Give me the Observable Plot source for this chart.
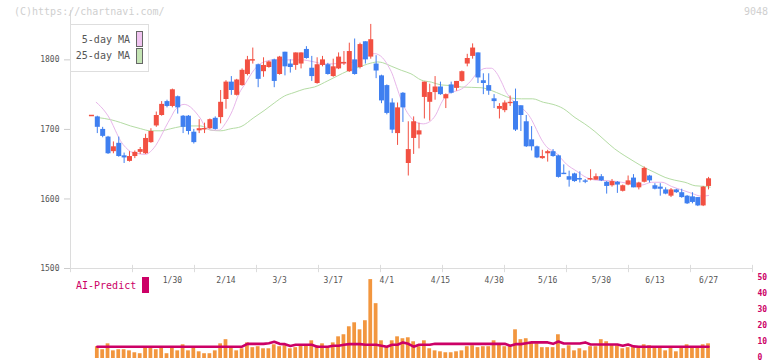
<!DOCTYPE html>
<html><head><meta charset="utf-8">
<script src="https://cdn.jsdelivr.net/npm/d3@7"></script>
<script src="https://cdn.jsdelivr.net/npm/@observablehq/plot@0.6"></script>
<style>
html,body{margin:0;padding:0;background:#fff;}
#wrap{position:relative;width:772px;height:361px;overflow:hidden;font-family:"DejaVu Sans Mono",monospace;}
#wrap svg{position:absolute;left:0;top:0;}
.t{position:absolute;white-space:pre;line-height:10px;font-size:10px;}
</style></head><body>
<div id="wrap"></div>
<script>
// ---- data ----
const openP = [
1719,1718,1700,1689,1668,1680,1662,1654,1661,1667,
1665,1681,1705,1720,1740,1733,1747,1719,1719,1696,
1698,1700,1701,1716,1717,1743,1768,1749,1763,1779,
1799,1793,1783,1789,1800,1779,1811,1794,1792,1794,
1815,1788,1766,1792,1793,1776,1787,1795,1783,1800,
1789,1826,1804,1794,1777,1763,1738,1694,1752,1651,
1687,1692,1746,1739,1753,1761,1744,1764,1759,1769,
1794,1805,1810,1770,1763,1744,1729,1727,1737,1740,
1734,1711,1685,1675,1658,1665,1668,1662,1637,1632,
1636,1630,1626,1628,1627,1632,1624,1619,1624,1611,
1620,1630,1616,1624,1633,1619,1617,1613,1604,1613,
1609,1604,1603,1602,1590,1618];
const highP = [
1720,1719,1703,1690,1682,1689,1666,1668,1669,1674,
1693,1701,1725,1740,1742,1758,1748,1720,1720,1700,
1714,1709,1715,1718,1756,1770,1776,1772,1787,1805,
1817,1794,1803,1798,1801,1805,1811,1800,1810,1810,
1819,1805,1803,1805,1795,1801,1810,1812,1824,1830,
1824,1826,1851,1806,1778,1764,1744,1738,1753,1711,
1718,1709,1768,1765,1776,1768,1751,1768,1769,1784,
1808,1823,1810,1780,1780,1750,1737,1741,1748,1758,
1734,1720,1704,1676,1670,1670,1671,1663,1649,1640,
1637,1639,1628,1642,1636,1635,1625,1628,1625,1620,
1633,1635,1624,1646,1634,1622,1622,1616,1615,1614,
1614,1605,1609,1602,1618,1631];
const lowP = [
1719,1694,1688,1664,1665,1660,1651,1653,1658,1664,
1664,1680,1703,1719,1731,1731,1722,1694,1692,1679,
1694,1694,1700,1699,1708,1729,1749,1748,1762,1777,
1794,1760,1775,1788,1760,1778,1777,1781,1785,1787,
1801,1769,1765,1790,1778,1775,1786,1792,1782,1778,
1787,1794,1801,1773,1737,1721,1694,1677,1710,1633,
1664,1672,1715,1712,1742,1749,1730,1751,1755,1768,
1790,1801,1766,1750,1749,1730,1715,1724,1733,1697,
1697,1674,1669,1658,1657,1653,1660,1630,1635,1617,
1624,1623,1622,1626,1627,1625,1607,1617,1608,1610,
1619,1616,1613,1623,1623,1613,1604,1606,1602,1608,
1601,1592,1593,1589,1589,1613];
const closeP = [
1720,1703,1690,1665,1675,1661,1659,1661,1667,1671,
1687,1697,1720,1736,1733,1757,1731,1703,1697,1681,
1701,1701,1714,1700,1739,1768,1756,1771,1785,1800,
1800,1772,1792,1797,1769,1804,1790,1789,1810,1810,
1802,1776,1793,1800,1779,1790,1804,1796,1812,1779,
1822,1800,1829,1784,1741,1723,1699,1731,1731,1671,
1711,1698,1768,1753,1761,1750,1750,1752,1769,1783,
1802,1817,1774,1766,1755,1740,1733,1738,1739,1699,
1720,1675,1675,1659,1661,1668,1661,1631,1635,1627,
1625,1629,1624,1629,1632,1626,1618,1625,1620,1619,
1626,1616,1623,1644,1626,1614,1614,1607,1613,1609,
1602,1593,1595,1590,1617,1629];

// 5-day and 25-day moving averages, read at positions along the trading-day index
const ma5X = [0.8,2.5,3.5,4.4,5.3,6.3,7.2,8.1,10,10.9,11.9,12.8,13.7,14.7,15.6,17.2,18.4,19.3,20.3,21.2,22.5,23.7,25,26.2,27.4,28.7,29.9,31.5,34,36.5,39,41.5,43.3,46.4,48.9,51.4,52.7,54.2,55.2,56,56.8,57.7,58.6,59.5,60.5,61.8,63.3,64.2,65.1,66.1,67,68.9,70.7,71.7,73.6,74.5,75.4,76.4,77.3,78.2,80.1,81,82,82.9,83.8,84.8,86.6,88.5,90.4,92.2,94.1,96.9,98.8,102.5,104.4,106.3,108.1,110,111.9,113.7,115];
const ma5Y = [1739,1725,1713,1698,1684,1674,1668,1666,1664,1668,1677,1689,1703,1717,1729,1736,1732,1725,1715,1703,1699,1699,1710,1727,1751,1767,1782,1795,1800,1800,1800,1797,1794,1795,1797,1806,1809,1803,1792,1780,1762,1742,1727,1717,1710,1708,1713,1722,1737,1749,1753,1758,1770,1780,1788,1788,1782,1768,1753,1744,1731,1725,1714,1700,1686,1675,1666,1650,1640,1631,1627,1626,1624,1620,1624,1624,1618,1613,1608,1604,1605];
const ma25X = [1.1,3.5,5.3,7.2,9.1,10.9,12.8,14.7,16.5,18.4,20.3,22.1,24,25.9,27.8,30.2,32.1,34,35.9,37.7,39.6,41.5,44,45.8,47.7,49.6,51.4,53.3,54.2,55.8,57.7,59.5,61.4,63.3,65.1,67,68.9,72.6,74.5,76.4,78.2,80.1,82.2,84.2,86,87.9,90.1,91.9,93.8,95.7,97.5,99.4,101.3,103.1,105,106.9,108.7,110.6,112.5,114.4,115.3];
const ma25Y = [1717,1714,1710,1705,1701,1698,1698,1701,1704,1705,1705,1699,1698,1701,1704,1717,1727,1738,1748,1753,1758,1761,1770,1777,1784,1789,1794,1797,1796,1791,1785,1780,1771,1768,1764,1763,1761,1760,1756,1750,1745,1744,1744,1739,1736,1730,1717,1708,1697,1684,1672,1662,1653,1645,1638,1631,1627,1624,1619,1618,1617];

// volume panel (first day has no bar)
const volume = [null,
7.4,5.5,9.2,4.8,5.5,5.5,4.8,3.6,3.0,6.8,
6.8,5.5,6.8,3.0,6.8,4.8,8.6,4.8,6.8,4.2,
3.0,3.0,4.8,9.2,11.8,6.8,4.8,6.1,9.8,6.8,
7.4,6.1,6.1,8.6,7.4,8.0,6.1,6.8,8.0,8.0,
11.1,8.0,9.2,6.8,9.8,13.6,14.9,19.9,22.4,18.0,
23.7,49.5,34.4,11.1,7.4,11.1,13.6,12.4,13.0,10.5,
7.4,11.1,6.1,4.8,4.2,3.6,3.6,4.2,4.8,7.4,
8.0,6.8,7.4,7.4,11.1,8.6,7.4,8.0,18.0,11.8,
12.4,9.8,9.2,6.8,6.8,6.8,14.9,6.1,8.0,4.8,
6.1,4.8,7.4,7.4,11.8,10.5,8.6,8.0,6.1,6.8,
7.4,6.8,8.6,8.0,6.8,6.8,4.8,6.8,4.2,7.4,
8.6,7.4,7.4,8.6,9.2];
const aiPredict = [null,
7.4,7.4,7.4,7.4,7.4,7.4,7.4,7.4,7.4,7.4,
7.4,7.4,7.4,7.4,7.4,7.4,7.4,7.4,7.4,7.4,
7.4,7.4,7.4,7.4,7.4,7.4,7.4,7.4,9.2,9.2,
9.2,9.2,9.6,10.5,9.2,9.0,7.8,8.6,8.6,8.6,
8.6,7.4,7.4,7.4,8.0,8.0,8.6,9.0,9.0,9.0,
8.6,8.6,8.6,8.0,7.4,8.6,8.6,10.1,9.2,7.4,
8.6,8.6,8.6,9.2,9.2,9.2,9.2,9.2,9.2,9.2,
9.2,9.2,9.2,9.2,9.2,9.2,9.2,8.0,9.0,9.0,
9.6,10.1,10.1,10.1,10.1,9.2,10.7,9.4,9.4,9.4,
9.4,10.1,8.8,8.8,8.8,8.8,8.8,8.8,8.0,8.8,
7.6,7.4,7.4,7.4,7.4,7.4,7.4,7.4,7.4,7.4,
7.4,7.4,7.4,7.4,7.4];

const dateLabelIdx = [15,25,35,45,55,65,75,85,95,105,115];
const dateLabels = ["1/30","2/14","3/3","3/17","4/1","4/15","4/30","5/16","5/30","6/13","6/27"];
const priceTicks = [1500,1600,1700,1800];
const volTicks = [0,10,20,30,40,50];

// ---- styles ----
const RED = "#f25042", BLUE = "#3f7ff0";
const FONT = "DejaVu Sans Mono, monospace";
const X_DOMAIN = [-4, 123.2];
const Y_DOMAIN = [1500, 1871];

const candles = closeP.map((c, i) => ({i, o: openP[i], h: highP[i], l: lowP[i], c, col: c >= openP[i] ? RED : BLUE}));
const bodies = candles.filter(d => Math.abs(d.c - d.o) >= 2);
const dojis = candles.filter(d => Math.abs(d.c - d.o) < 2);
const ma5 = ma5X.map((x, k) => ({x, v: ma5Y[k]}));
const ma25 = ma25X.map((x, k) => ({x, v: ma25Y[k]}));
const vol = volume.map((v, i) => ({i, v})).filter(d => d.v != null);
const ai = aiPredict.map((v, i) => ({i, v})).filter(d => d.v != null);
const labels = dateLabelIdx.map((i, k) => ({i, t: dateLabels[k]}));
const gridTicks = d3.range(12).map(k => X_DOMAIN[0] + k * (X_DOMAIN[1] - X_DOMAIN[0]) / 11);

const main = Plot.plot({
  width: 772, height: 361,
  marginLeft: 70, marginRight: 20, marginTop: 10, marginBottom: 93,
  x: {domain: X_DOMAIN, axis: null},
  y: {domain: Y_DOMAIN, axis: null},
  color: {type: "identity"},
  style: {background: "#fff", fontFamily: FONT, fontSize: "8px"},
  marks: [
    Plot.ruleX([X_DOMAIN[0]], {stroke: "#dcdcdc"}),
    Plot.ruleY([Y_DOMAIN[0]], {stroke: "#dcdcdc"}),
    Plot.ruleX(gridTicks, {y1: Y_DOMAIN[0] + 4.5, y2: Y_DOMAIN[0] - 6, stroke: "#dcdcdc"}),
    Plot.axisY(priceTicks, {anchor: "left", label: null, tickFormat: d => String(d), tickSize: 6, tickPadding: 5, stroke: "#ccc", fill: "#555", fontSize: 8, fontFamily: FONT}),
    Plot.text(labels, {x: "i", text: "t", frameAnchor: "bottom", dy: 14, fill: "#555", fontSize: 8, fontFamily: FONT}),
    Plot.line(ma25, {x: "x", y: "v", stroke: "#b4dca4", strokeWidth: 1, curve: "monotone-x"}),
    Plot.line(ma5, {x: "x", y: "v", stroke: "#e8b6ea", strokeWidth: 1, curve: "monotone-x"}),
    Plot.ruleX(candles, {x: "i", y1: "l", y2: "h", stroke: "col", strokeWidth: 1}),
    Plot.ruleX(bodies, {x: "i", y1: "o", y2: "c", stroke: "col", strokeWidth: 5}),
    Plot.ruleY(dojis, {y: "c", x1: d => d.i - 0.47, x2: d => d.i + 0.47, stroke: "col", strokeWidth: 1.5})
  ]
});

const volPlot = Plot.plot({
  width: 772, height: 361,
  marginLeft: 70, marginRight: 20, marginTop: 278.3, marginBottom: 3,
  x: {domain: X_DOMAIN, axis: null},
  y: {domain: [0, 50], axis: null},
  style: {background: "transparent", fontFamily: FONT, fontSize: "8px"},
  marks: [
    Plot.rect(vol, {x1: d => d.i - 0.35, x2: d => d.i + 0.35, y1: d => 0, y2: "v", fill: "#f2963e"}),
    Plot.line(ai, {x: "i", y: "v", stroke: "#cc0066", strokeWidth: 2.6}),
    Plot.axisY(volTicks, {anchor: "right", label: null, tickSize: 0, tickPadding: 5, dy: -1, fill: "#cc0066", fontSize: 8, fontWeight: "bold", fontFamily: FONT})
  ]
});

const wrap = document.getElementById("wrap");
wrap.appendChild(main);
wrap.appendChild(volPlot);

function addText(txt, css) {
  const d = document.createElement("div");
  d.className = "t";
  d.textContent = txt;
  Object.assign(d.style, css);
  wrap.appendChild(d);
  return d;
}
function addBox(css) {
  const d = document.createElement("div");
  d.style.position = "absolute";
  d.style.boxSizing = "border-box";
  Object.assign(d.style, css);
  wrap.appendChild(d);
  return d;
}
addText("(C)https://chartnavi.com/", {left: "14px", top: "7px", color: "#cfcfcf"});
addText("9048", {right: "4px", top: "7px", color: "#cfcfcf"});
// legend
addBox({left: "70px", top: "24px", width: "79px", height: "48px", border: "1px solid #dedede", background: "#fff"});
addText("5-day MA", {right: (772 - 130) + "px", top: "35px", color: "#555"});
addText("25-day MA", {right: (772 - 130) + "px", top: "51px", color: "#555"});
addBox({left: "136px", top: "31px", width: "7px", height: "16px", border: "1px solid #666", background: "#f0c4f0"});
addBox({left: "136px", top: "48px", width: "7px", height: "16px", border: "1px solid #666", background: "#c4e4b4"});
// AI-Predict label
addText("AI-Predict", {left: "76px", top: "281px", color: "#cc0066"});
addBox({left: "142px", top: "277px", width: "7px", height: "16px", background: "#cc0066"});
</script>
</body></html>
